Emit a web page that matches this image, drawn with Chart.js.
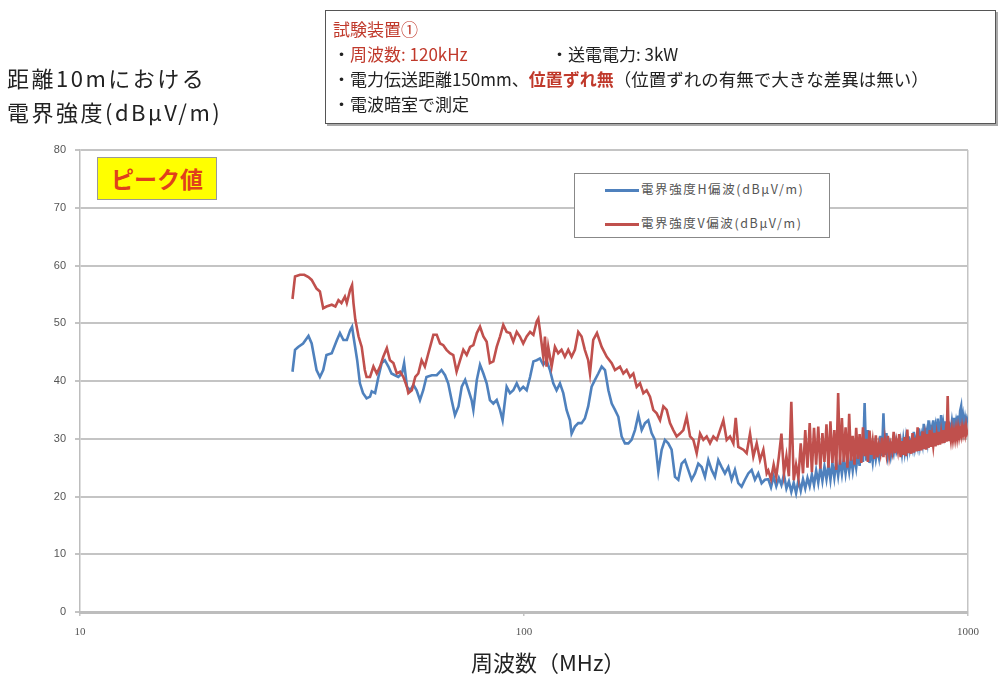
<!DOCTYPE html>
<html><head><meta charset="utf-8">
<script src="https://cdn.jsdelivr.net/npm/chart.js@4"></script>
<style>
html,body{margin:0;padding:0;background:#fff;}
#wrap{position:relative;width:1000px;height:677px;font-family:"Noto Sans CJK JP","Noto Sans",sans-serif;}
canvas{position:absolute;left:0;top:0;}
.abs{position:absolute;white-space:nowrap;}
#note{left:325px;top:10px;width:671px;height:114px;border:1.5px solid #555;box-shadow:2px 2px 0 #aaa;background:#fff;box-sizing:border-box;}
#note .ln{position:absolute;left:7px;font-size:17px;color:#222;line-height:19px;}
#note .red{color:#c0392b;}
#ytitle{left:7px;top:60px;font-size:22px;letter-spacing:2.5px;line-height:34px;color:#222;}
#peak{left:97px;top:157px;width:120px;height:43px;background:#ffff00;border:1px solid #999;box-sizing:border-box;color:#e0401c;font-weight:bold;font-size:23px;text-align:center;line-height:41px;}
#legend{left:574px;top:173px;width:256px;height:65px;background:#fff;border:1.5px solid #888;box-sizing:border-box;}
#legend .it{position:absolute;left:30px;font-size:12.5px;letter-spacing:1.6px;color:#555;line-height:15px;}
#legend .sw{display:inline-block;width:34px;height:2.5px;vertical-align:middle;margin-right:2px;}
#xtitle{left:471px;top:646px;font-size:22px;color:#222;line-height:30px;}
</style></head>
<body><div id="wrap">
<canvas id="c" width="1000" height="677"></canvas>
<div id="note" class="abs">
 <div class="ln red" style="top:8px;">試験装置①</div>
 <div class="ln" style="top:33px;">・<span class="red">周波数: 120kHz</span></div>
 <div class="ln" style="top:33px;left:225px;">・送電電力: 3kW</div>
 <div class="ln" style="top:58px;">・電力伝送距離150mm、<span class="red" style="font-weight:bold;">位置ずれ無</span><span style="font-size:17.5px;">（位置ずれの有無で大きな差異は無い）</span></div>
 <div class="ln" style="top:83px;">・電波暗室で測定</div>
</div>
<div id="ytitle" class="abs">距離10mにおける<br>電界強度(dBμV/m)</div>
<div id="peak" class="abs">ピーク値</div>
<div id="legend" class="abs">
 <div class="it" style="top:7px;"><span class="sw" style="background:#4f81bd"></span>電界強度H偏波(dBμV/m)</div>
 <div class="it" style="top:41px;"><span class="sw" style="background:#c0504d"></span>電界強度V偏波(dBμV/m)</div>
</div>
<div id="xtitle" class="abs">周波数（MHz）</div>
</div>
<script>
// ---- data (MHz, dBµV/m) ----
const freqV = [30.1,30.5,31.3,32.0,32.7,33.25,34.1,34.7,35.3,35.9,36.9,37.6,38.2,38.8,39.5,39.9,40.6,41.0,41.3,41.7,42.4,43.1,43.8,44.2,45.0,45.8,46.6,47.4,48.2,49.1,49.9,50.8,51.7,52.6,53.5,54.5,54.9,55.9,56.9,57.8,58.8,59.8,60.9,62.5,63.6,64.7,65.8,66.9,68.1,69.3,70.5,71.8,73.0,74.3,75.6,76.9,78.3,79.6,81.0,82.4,83.8,85.3,86.8,88.3,89.8,91.4,93.0,94.6,96.3,97.9,99.6,101.4,103.2,105.0,106.8,107.7,108.6,110.5,111.5,112.4,113.4,115.4,117.4,119.4,121.5,123.6,125.8,128.0,130.2,132.5,134.8,137.1,139.5,140.8,142.0,143.2,146.0,149.6,153.6,157.6,160.3,164.5,167.4,170.3,173.3,176.3,179.4,182.5,185.7,188.9,192.2,195.5,199.0,202.5,206.0,209.6,213.2,216.9,220.7,224.6,228.5,232.5,236.6,240.7,244.9,249.2,253.5,257.9,262.4,267.0,271.7,276.4,281.2,286.1,291.1,296.2,299.8,303.8,311.9,317.3,322.9,328.5,334.3,340.1,346.0,352.1];
const valV = [54.2,58.1,58.4,58.4,58.0,57.5,56.0,55.5,52.6,52.9,53.2,52.9,54.0,53.5,54.6,53.5,55.8,56.6,53.5,50.6,47.7,45.9,41.9,40.7,40.7,42.5,41.3,42.5,44.2,45.7,43.6,43.1,41.3,41.6,40.7,39.0,37.9,38.4,40.7,41.3,43.6,42.5,44.8,48.0,48.0,46.5,46.2,45.4,44.8,44.5,41.6,43.6,45.4,44.5,45.9,46.2,48.3,49.4,47.7,46.8,43.1,43.4,45.9,47.7,49.7,48.5,48.3,46.8,48.5,47.7,46.5,47.7,48.5,48.0,50.3,50.8,48.8,44.2,47.7,42.5,45.9,42.5,45.9,44.8,45.4,44.2,45.4,44.2,45.4,48.5,47.7,45.4,43.6,41.3,44.2,47.1,48.3,45.9,44.2,43.1,41.9,42.5,41.3,41.9,40.7,41.3,39.0,39.6,37.9,38.4,37.3,35.0,34.4,33.2,35.6,35.0,32.7,31.5,30.4,30.9,31.5,33.8,30.4,29.8,27.5,30.9,29.8,30.4,29.2,30.4,29.8,31.5,33.2,29.8,30.4,29.2,33.6,28.6,28.1,27.5,30.9,26.9,29.2,26.3,28.1,24.0];
const freqH = [30.1,30.5,31.0,31.8,32.7,33.25,34.1,34.7,35.3,35.9,36.9,37.9,38.5,39.2,39.9,40.6,41.0,41.3,42.1,42.7,43.4,44.2,45.0,45.4,46.2,47.0,47.8,48.6,49.5,50.3,51.2,52.1,53.1,53.7,54.5,55.4,56.4,57.3,58.3,59.3,60.3,62.0,63.6,65.2,66.4,67.5,68.7,69.9,71.2,72.4,73.7,75.0,76.2,76.9,78.3,79.6,81.0,82.4,83.8,85.3,86.8,88.3,89.5,91.4,93.0,94.6,96.3,97.9,99.6,101.4,103.2,105.0,106.8,108.6,110.5,112.4,114.4,116.4,118.4,120.5,122.6,124.7,126.9,128.0,130.2,132.5,134.8,137.1,139.5,142.0,144.5,147.0,149.6,152.2,154.9,157.6,160.3,163.1,165.9,168.8,171.8,174.7,177.8,180.9,184.1,187.3,190.5,193.8,197.2,200.7,204.2,207.7,211.3,215.0,218.8,222.6,226.5,230.4,234.4,238.5,242.7,246.9,251.3,255.6,260.1,264.6,269.2,273.9,278.7,283.5,288.5,293.5,298.6,303.8,309.1,314.5,320.0,325.6,331.2,337.0,342.9,348.8];
const valH = [41.6,45.4,45.9,46.5,47.8,46.5,41.9,40.7,41.9,44.5,44.8,47.1,48.3,47.1,47.1,48.8,49.4,47.7,43.6,39.6,37.9,37.0,37.3,38.2,37.9,40.7,43.1,43.6,42.5,41.3,41.0,40.7,41.3,43.1,39.0,38.4,39.3,38.4,36.7,38.4,40.7,41.0,41.0,41.9,41.0,39.6,36.7,34.1,35.6,39.0,40.2,38.4,36.7,35.0,40.2,42.8,41.3,39.6,36.7,36.1,36.7,35.0,33.2,39.0,37.9,38.4,39.6,38.4,39.0,38.4,40.7,43.4,43.6,43.9,42.8,43.6,41.9,39.6,38.4,39.6,37.9,35.0,33.2,30.9,32.1,32.7,32.7,33.5,35.6,39.0,40.2,41.3,42.5,41.9,38.4,36.1,35.0,33.8,30.4,29.2,29.2,29.8,31.5,34.1,31.5,32.7,33.2,31.0,29.8,24.3,28.1,29.8,29.2,28.1,23.4,22.9,25.7,26.3,24.6,22.9,24.0,25.7,25.1,23.4,26.3,24.6,23.4,26.3,25.1,24.0,25.1,22.9,24.6,22.3,21.7,22.9,24.0,24.6,22.9,24.0,22.3,22.9];
const freqHigh = [355,360,365,370,375,380,385,390,395,400,405,410,415,420,425,430,435,440,445,450,455,460,465,470,475,480,485,490,495,500,505,510,515,520,525,530,535,540,545,550,555,560,565,570,575,580,585,590,595,600,605,610,615,620,625,630,635,640,645,650,655,660,665,670,675,680,685,690,695,700,705,710,715,720,725,730,735,740,745,750,755,760,765,770,775,780,785,790,795,800,805,810,815,820,825,830,835,840,845,850,855,860,865,870,875,880,885,890,895,900,905,910,915,920,925,930,935,940,945,950,955,960,965,970,975,980,985,990,995,1000];
const valHighV = [24.5,23.0,25.5,23.4,26.9,30.9,24.0,27.0,23.5,36.4,22.8,25.5,23.2,29.2,24.0,31.5,25.0,32.7,24.2,31.9,25.5,32.1,24.8,31.0,26.0,32.5,25.0,33.0,25.8,31.5,24.6,37.9,25.5,33.6,26.0,32.0,25.0,34.3,26.2,30.5,25.5,31.9,26.5,30.8,25.8,32.0,27.0,30.0,26.0,31.4,27.2,29.5,26.5,30.6,26.8,29.0,27.5,30.2,26.8,29.8,27.6,30.5,27.2,29.0,27.8,31.2,27.5,29.5,28.0,30.8,26.8,29.6,27.2,30.3,27.0,31.6,27.5,29.8,27.4,31.0,27.6,30.2,27.8,32.0,27.9,30.5,28.0,31.3,28.2,30.2,28.1,30.8,28.4,31.5,28.6,30.5,28.8,31.0,28.7,30.6,28.9,31.2,29.0,30.9,29.2,31.5,29.3,31.0,29.5,37.4,29.6,31.2,29.8,31.5,29.9,31.3,30.0,31.6,30.2,31.8,30.4,31.6,30.6,32.0,30.8,31.8,30.8,32.2,31.0,31.5];
const valHighH = [23.0,21.6,23.5,21.8,23.2,22.0,23.8,21.4,22.6,20.8,22.4,20.6,22.8,21.0,23.0,21.4,23.2,21.8,23.8,22.0,24.5,22.4,25.0,22.7,25.2,23.0,25.5,22.9,25.8,23.3,26.0,23.6,26.2,23.9,26.5,24.0,26.4,24.3,26.8,24.5,27.0,25.0,27.5,25.3,30.0,26.0,36.2,26.2,31.5,25.8,28.0,26.0,28.5,26.5,28.2,26.8,30.5,27.0,34.4,27.2,31.0,27.2,28.8,27.0,28.6,27.5,29.5,27.8,28.6,27.9,29.5,27.5,29.8,27.8,30.0,28.0,30.4,28.2,29.5,28.4,31.2,28.6,30.0,28.8,31.8,29.0,30.5,29.2,32.6,29.4,31.0,29.6,33.2,29.8,31.5,30.0,33.2,30.2,32.0,30.4,33.5,30.6,31.5,34.1,30.8,32.5,31.0,33.0,31.2,32.5,31.3,32.2,31.5,33.0,31.6,33.6,31.8,33.0,31.9,34.0,32.0,34.8,35.6,32.4,33.8,32.2,33.5,32.3,33.4,32.8];
const xTicks = [10, 100, 1000];
const yMin = 0, yMax = 80, yStep = 10;
const seriesNames = ['電界強度H偏波(dBμV/m)', '電界強度V偏波(dBμV/m)'];

function pts(f, v){ const n = Math.min(f.length, v.length); const out=[]; for(let i=0;i<n;i++) out.push({x:f[i], y:v[i]}); return out; }
const dataH = pts(freqH, valH).concat(pts(freqHigh, valHighH));
const dataV = pts(freqV, valV).concat(pts(freqHigh, valHighV));

const gridCol = '#c4c4c4';
new Chart(document.getElementById('c'), {
  type: 'scatter',
  data: { datasets: [
    { label: seriesNames[0], data: dataH, showLine: true, borderColor: '#4f81bd', backgroundColor:'#4f81bd', borderWidth: 2.6, pointRadius: 0, order: 1 },
    { label: seriesNames[1], data: dataV, showLine: true, borderColor: '#c0504d', backgroundColor:'#c0504d', borderWidth: 2.6, pointRadius: 0, order: 0 }
  ]},
  options: {
    responsive: false, animation: false, devicePixelRatio: 1,
    layout: { padding: { left: 0, right: 32, top: 150, bottom: 0 } },
    plugins: { legend: { display: false }, tooltip: { enabled: false } },
    scales: {
      x: {
        type: 'logarithmic', min: 10, max: 1000,
        afterBuildTicks: s => { s.ticks = xTicks.map(v => ({ value: v })); },
        afterFit: s => { s.height = 65; },
        ticks: { callback: v => String(v), color: '#555', font: { family: 'Liberation Serif', size: 11 }, padding: 10, maxRotation: 0, autoSkip: false },
        grid: { color: c => (c.tick && c.tick.value === 1000) ? gridCol : 'rgba(0,0,0,0)', tickColor: gridCol, lineWidth: 1.5, tickLength: 4 },
        border: { display: true, color: '#bdbdbd', width: 3 }
      },
      y: {
        min: yMin, max: yMax,
        afterFit: s => { s.width = 80; },
        ticks: { stepSize: yStep, color: '#555', font: { family: 'Liberation Sans', size: 11 }, padding: 9 },
        grid: { color: gridCol, lineWidth: 2, tickLength: 5 },
        border: { display: true, color: '#bdbdbd', width: 1.5 }
      }
    }
  }
});
</script>
</body></html>
